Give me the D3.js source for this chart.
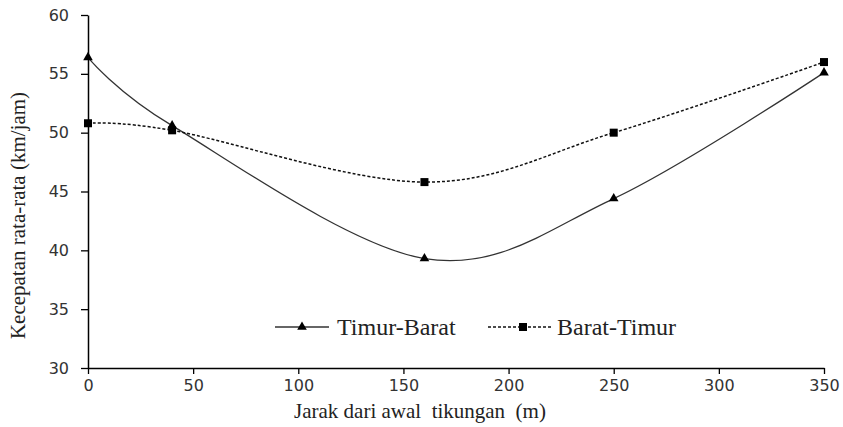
<!DOCTYPE html>
<html>
<head>
<meta charset="utf-8">
<script src="https://cdn.jsdelivr.net/npm/d3@7"></script>
<style>
  html, body { margin: 0; padding: 0; background: #fff; }
  svg { display: block; }
</style>
</head>
<body>
<svg id="chart" width="843" height="427"></svg>
<script>
// Distance from the start of the bend (m)
const distances = [0, 40, 160, 250, 350];
// Average speed per direction (km/jam)
const timurBarat = [56.4, 50.6, 39.3, 44.4, 55.1];
const baratTimur = [50.8, 50.2, 45.8, 50.0, 56.0];
const xTicks = [0, 50, 100, 150, 200, 250, 300, 350];
const yTicks = [30, 35, 40, 45, 50, 55, 60];
const seriesNames = ["Timur-Barat", "Barat-Timur"];

const svg = d3.select("#chart");
const margin = { left: 88, right: 19, top: 15, bottom: 59 };
const W = 843, H = 427;

const x = d3.scaleLinear().domain([0, 350]).range([margin.left, W - margin.right]);
const y = d3.scaleLinear().domain([30, 60]).range([H - margin.bottom, margin.top]);

const tickFont = "'DejaVu Sans', sans-serif";
const serif = "'Liberation Serif', 'Times New Roman', serif";

// Axes
const xAxis = svg.append("g")
  .attr("transform", `translate(0,${y(30)})`)
  .call(d3.axisBottom(x).tickValues(xTicks).tickSize(6).tickSizeOuter(0).tickPadding(6));
const yAxis = svg.append("g")
  .attr("transform", `translate(${x(0)},0)`)
  .call(d3.axisLeft(y).tickValues(yTicks).tickSize(7).tickSizeOuter(0).tickPadding(12));

[xAxis, yAxis].forEach(g => {
  g.select(".domain").attr("stroke", "#000").attr("stroke-width", 1.5);
  g.selectAll(".tick line").attr("stroke", "#000").attr("stroke-width", 1.3);
  g.selectAll(".tick text")
    .attr("fill", "#333")
    .style("font-family", tickFont)
    .style("font-size", "16px");
});

// Axis titles
svg.append("text")
  .attr("x", 420).attr("y", 418)
  .attr("text-anchor", "middle")
  .style("font-family", serif).style("font-size", "21px")
  .attr("fill", "#222")
  .attr("xml:space", "preserve")
  .text("Jarak dari awal  tikungan  (m)");

svg.append("text")
  .attr("transform", `translate(25,${(y(30) + y(60)) / 2 + 24}) rotate(-90)`)
  .attr("text-anchor", "middle")
  .style("font-family", serif).style("font-size", "21px")
  .attr("fill", "#222")
  .text("Kecepatan rata-rata (km/jam)");

// Smoothed series lines
const line = d3.line()
  .x((d, i) => x(distances[i]))
  .y(d => y(d))
  .curve(d3.curveCatmullRom.alpha(0));

svg.append("path")
  .datum(timurBarat)
  .attr("d", line)
  .attr("fill", "none")
  .attr("stroke", "#333")
  .attr("stroke-width", 1.3);

svg.append("path")
  .datum(baratTimur)
  .attr("d", line)
  .attr("fill", "none")
  .attr("stroke", "#111")
  .attr("stroke-width", 1.5)
  .attr("stroke-dasharray", "3,2");

// Markers
const tri = d3.symbol().type(d3.symbolTriangle).size(40);
svg.append("g").selectAll("path")
  .data(timurBarat)
  .join("path")
  .attr("d", tri)
  .attr("transform", (d, i) => `translate(${x(distances[i])},${y(d)})`)
  .attr("fill", "#000");

svg.append("g").selectAll("rect")
  .data(baratTimur)
  .join("rect")
  .attr("x", (d, i) => x(distances[i]) - 4)
  .attr("y", d => y(d) - 4)
  .attr("width", 8).attr("height", 8)
  .attr("fill", "#000");

// Legend
const legY = 327;
const leg = svg.append("g");
leg.append("line")
  .attr("x1", 275).attr("x2", 329).attr("y1", legY).attr("y2", legY)
  .attr("stroke", "#333").attr("stroke-width", 1.3);
leg.append("path")
  .attr("d", tri)
  .attr("transform", `translate(302,${legY})`)
  .attr("fill", "#000");
leg.append("text")
  .attr("x", 337).attr("y", legY + 8)
  .style("font-family", serif).style("font-size", "24px")
  .attr("fill", "#222")
  .text(seriesNames[0]);

leg.append("line")
  .attr("x1", 488).attr("x2", 551).attr("y1", legY).attr("y2", legY)
  .attr("stroke", "#111").attr("stroke-width", 1.5)
  .attr("stroke-dasharray", "3,2");
leg.append("rect")
  .attr("x", 519).attr("y", legY - 4)
  .attr("width", 8).attr("height", 8)
  .attr("fill", "#000");
leg.append("text")
  .attr("x", 557).attr("y", legY + 8)
  .style("font-family", serif).style("font-size", "24px")
  .attr("fill", "#222")
  .text(seriesNames[1]);
</script>
</body>
</html>
